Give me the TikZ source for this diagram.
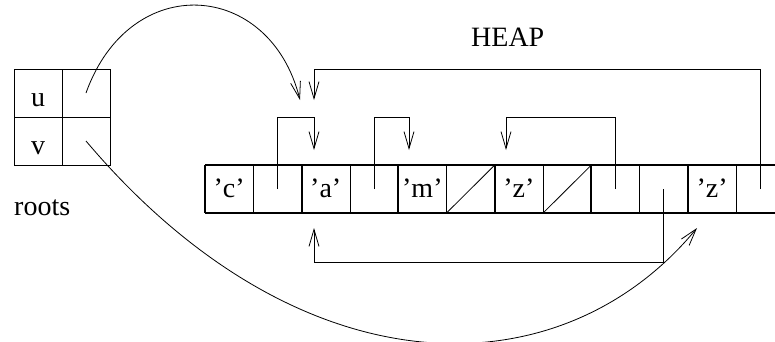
\documentclass[tikz,border=0pt]{standalone}
\usepackage{fontspec}
\setmainfont{Liberation Serif}
\usetikzlibrary{arrows.meta}

\tikzset{
  cell/.style={draw, line width=0.8pt, minimum width=48.3pt, minimum height=48pt,
    inner sep=0pt, text height=20pt, text depth=4pt, font=\fontsize{28}{30}\selectfont},
  rootcell/.style={cell, minimum width=48pt, text height=26pt, text depth=0pt},
  ptr/.style={line width=0.8pt, -{Straight Barb[length=17pt,width=10pt,line width=0.8pt]}},
  tag/.style={inner sep=0pt, font=\fontsize{28}{30}\selectfont},
}

\begin{document}
\begin{tikzpicture}[x=1pt, y=-1pt]
  \useasboundingbox (0,0) rectangle (775,341);

  % roots
  \node[rootcell] (ru) at (38,93) {u};
  \node[rootcell] (rup) at (86,93) {};
  \node[rootcell] (rv) at (38,141) {v};
  \node[rootcell] (rvp) at (86,141) {};
  \node[tag, anchor=base west] (roots) at (14,215) {roots};

  % heap cells
  \foreach \i/\t in {1/'c', 2/, 3/'a', 4/, 5/'m', 6/, 7/'z', 8/, 9/, 10/, 11/'z', 12/}
    \node[cell] (h\i) at (205+48.3*\i-24.15,189) {\t};
  \draw[line width=2pt] (205,165) -- (800,165) (205,213) -- (800,213);
  \foreach \k in {0,...,6}
    \draw[line width=2pt] (205+96.6*\k,165) -- (205+96.6*\k,213);
  \draw[line width=0.8pt] (h6.south west) -- (h6.north east);
  \draw[line width=0.8pt] (h8.south west) -- (h8.north east);
  \node[tag, anchor=base west] (heap) at (471,46) {HEAP};

  % pointer ends
  \coordinate (a3) at (314,150);
  \coordinate (a5) at (409,150);
  \coordinate (a7) at (506,150);
  \coordinate (b3) at (314,228);
  \coordinate (t3) at (314,100);
  \coordinate (u3) at (300,100);
  \coordinate (v11) at (697,228);

  % pointers
  \draw[ptr] (h2.center) -- ++(0,-72) -| (a3);
  \draw[ptr] (h4.center) -- ++(0,-72) -| (a5);
  \draw[ptr] (h9.center) -- ++(0,-72) -| (a7);
  \draw[ptr] (h10.center) -- ++(0,73) -| (b3);
  \draw[ptr] (h12.center) -- ++(0,-120) -| (t3);
  \draw[ptr] (rup.center) .. controls (130,-30) and (270,-20) .. (u3);
  \draw[ptr] (rvp.center) .. controls (300,394) and (560,394) .. (v11);
\end{tikzpicture}
\end{document}
